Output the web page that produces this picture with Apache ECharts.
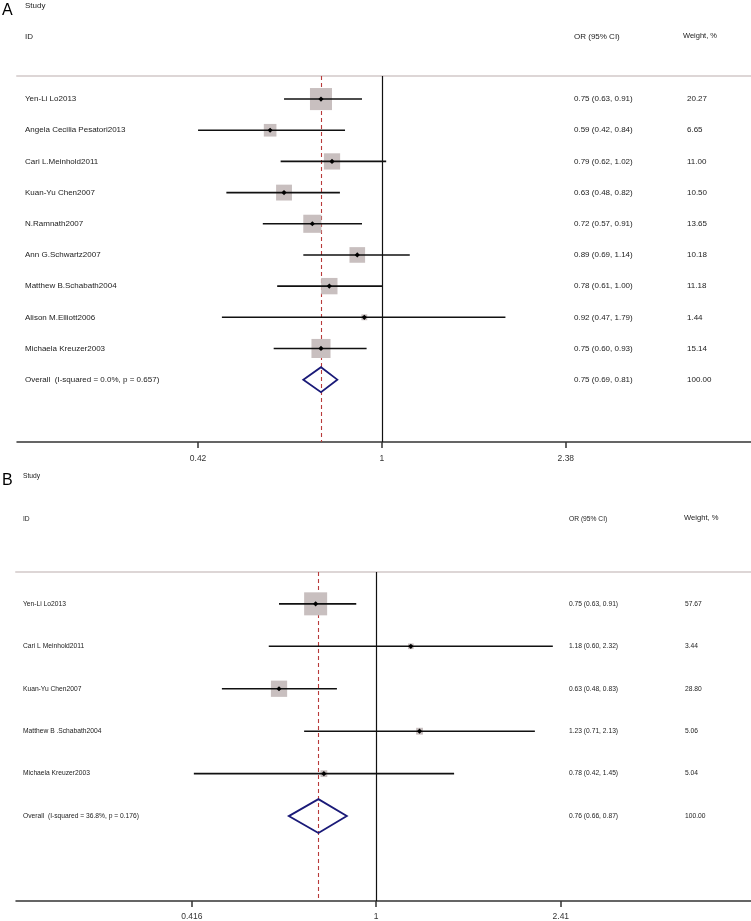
<!DOCTYPE html>
<html>
<head>
<meta charset="utf-8">
<script src="https://cdn.jsdelivr.net/npm/echarts@6/dist/echarts.min.js"></script>
<style>
  html, body { margin: 0; padding: 0; background: #fff; }
  #chart { width: 751px; height: 921px; }
</style>
</head>
<body>
<div id="chart"></div>
<script>
// Panel A
const studiesA = ['Yen-Li Lo2013', 'Angela Cecilia Pesatori2013', 'Cari L.Meinhold2011', 'Kuan-Yu Chen2007',
  'N.Ramnath2007', 'Ann G.Schwartz2007', 'Matthew B.Schabath2004', 'Alison M.Elliott2006', 'Michaela Kreuzer2003'];
const orA = [0.75, 0.59, 0.79, 0.63, 0.72, 0.89, 0.78, 0.92, 0.75];
const lowA = [0.63, 0.42, 0.62, 0.48, 0.57, 0.69, 0.61, 0.47, 0.60];
const highA = [0.91, 0.84, 1.02, 0.82, 0.91, 1.14, 1.00, 1.79, 0.93];
const weightA = [20.27, 6.65, 11.00, 10.50, 13.65, 10.18, 11.18, 1.44, 15.14];
const overallA = { label: 'Overall  (I-squared = 0.0%, p = 0.657)', or: 0.75, low: 0.69, high: 0.81, weight: 100.00 };
const ticksA = [0.42, 1, 2.38];

// Panel B
const studiesB = ['Yen-Li Lo2013', 'Cari L Meinhold2011', 'Kuan-Yu Chen2007', 'Matthew B .Schabath2004', 'Michaela Kreuzer2003'];
const orB = [0.75, 1.18, 0.63, 1.23, 0.78];
const lowB = [0.63, 0.60, 0.48, 0.71, 0.42];
const highB = [0.91, 2.32, 0.83, 2.13, 1.45];
const weightB = [57.67, 3.44, 28.80, 5.06, 5.04];
const overallB = { label: 'Overall  (I-squared = 36.8%, p = 0.176)', or: 0.76, low: 0.66, high: 0.87, weight: 100.00 };
const ticksB = [0.416, 1, 2.41];

const FONT = 'Liberation Sans, Arial, sans-serif';

function fmtCI(e, l, h) {
  return e.toFixed(2) + ' (' + l.toFixed(2) + ', ' + h.toFixed(2) + ')';
}

// builds grid, axes and series for one forest panel
function buildPanel(idx, p) {
  const n = p.studies.length;
  const grid = { left: p.left, right: 0, top: p.top, height: p.height };
  const xAxes = [
    {
      gridIndex: idx, type: 'log', logBase: Math.E, min: p.xmin, max: p.xmax,
      axisLine: { onZero: false, lineStyle: { color: '#333', width: 1.5 } },
      axisTick: { customValues: p.ticks, length: 6, lineStyle: { color: '#333', width: 1.5 } },
      axisLabel: {
        customValues: p.ticks, margin: p.labelMargin, color: '#333', fontSize: 8.5, fontFamily: FONT,
        formatter: v => String(+(+v).toFixed(3))
      },
      splitLine: { show: false }
    },
    {
      gridIndex: idx, type: 'value', position: 'top', min: 0, max: 1,
      axisLine: { onZero: false, lineStyle: { color: '#ddd6d6', width: 2 } },
      axisTick: { show: false }, axisLabel: { show: false }, splitLine: { show: false }
    }
  ];
  const yAxis = {
    gridIndex: idx, type: 'value', inverse: true, min: p.ymin, max: p.ymax, show: false
  };
  const xi = idx * 2, yi = idx;

  const rows = p.studies.map((s, i) => [p.or[i], i, p.low[i], p.high[i], p.weight[i]]);
  const studySeries = {
    type: 'custom', xAxisIndex: xi, yAxisIndex: yi, clip: false, z: 3,
    data: rows,
    encode: { x: [0, 2, 3], y: 1 },
    renderItem: (params, api) => {
      const y = api.value(1);
      const pe = api.coord([api.value(0), y]);
      const pl = api.coord([api.value(2), y]);
      const ph = api.coord([api.value(3), y]);
      const s = p.boxK * Math.sqrt(api.value(4));
      const d = 2.6;
      return {
        type: 'group',
        children: [
          { type: 'rect', shape: { x: pe[0] - s / 2, y: pe[1] - s / 2, width: s, height: s }, style: { fill: '#c8bfbf' } },
          { type: 'line', shape: { x1: pl[0], y1: pl[1], x2: ph[0], y2: ph[1] }, style: { stroke: '#111', lineWidth: 1.6 } },
          { type: 'polygon', shape: { points: [[pe[0] - d, pe[1]], [pe[0], pe[1] - d], [pe[0] + d, pe[1]], [pe[0], pe[1] + d]] }, style: { fill: '#000' } }
        ]
      };
    }
  };

  const ov = p.overall;
  const overallSeries = {
    type: 'custom', xAxisIndex: xi, yAxisIndex: yi, clip: false, z: 3,
    data: [[ov.or, n, ov.low, ov.high]],
    encode: { x: [0, 2, 3], y: 1 },
    renderItem: (params, api) => {
      const y = api.value(1);
      const top = api.coord([api.value(0), y - 0.4]);
      const bot = api.coord([api.value(0), y + 0.4]);
      const l = api.coord([api.value(2), y]);
      const h = api.coord([api.value(3), y]);
      return {
        type: 'polygon',
        shape: { points: [l, top, h, bot] },
        style: { fill: 'none', stroke: '#1a1a78', lineWidth: 1.8 }
      };
    },
    markLine: {
      silent: true, symbol: 'none', label: { show: false }, z: 1,
      data: [
        { xAxis: ov.or, lineStyle: { color: '#b83a3a', type: [4, 3], width: 1.1 } },
        { xAxis: 1, lineStyle: { color: '#111', type: 'solid', width: 1.2 } }
      ]
    }
  };

  const textRows = p.studies.map((s, i) => ({ label: s, ci: fmtCI(p.or[i], p.low[i], p.high[i]), w: p.weight[i].toFixed(2) }));
  textRows.push({ label: ov.label, ci: fmtCI(ov.or, ov.low, ov.high), w: ov.weight.toFixed(2) });
  const textSeries = {
    type: 'custom', xAxisIndex: xi, yAxisIndex: yi, clip: false, z: 4, silent: true,
    data: textRows.map((r, i) => [1, i]),
    encode: { x: 0, y: 1 },
    renderItem: (params, api) => {
      const r = textRows[params.dataIndex];
      const yy = api.coord([1, api.value(1)])[1];
      const st = { fill: '#222', fontSize: p.fontSize, fontFamily: FONT, verticalAlign: 'middle', align: 'left' };
      return {
        type: 'group',
        children: [
          { type: 'text', x: p.colLabel, y: yy, style: Object.assign({ text: r.label }, st) },
          { type: 'text', x: p.colCI, y: yy, style: Object.assign({ text: r.ci }, st) },
          { type: 'text', x: p.colW, y: yy, style: Object.assign({ text: r.w }, st) }
        ]
      };
    }
  };

  const hs = { fill: '#222', fontSize: p.fontSize, fontFamily: FONT, verticalAlign: 'middle' };
  const graphics = [
    { type: 'text', left: 2, top: p.letterY - 6, style: { text: p.letter, fill: '#000', fontSize: 16, fontFamily: FONT } },
    { type: 'text', x: p.colLabel, y: p.studyY, style: Object.assign({ text: 'Study' }, hs) },
    { type: 'text', x: p.colLabel, y: p.idY, style: Object.assign({ text: 'ID' }, hs) },
    { type: 'text', x: p.colCI, y: p.idY, style: Object.assign({ text: 'OR (95% CI)' }, hs) },
    { type: 'text', x: p.colWH, y: p.idY - 1, style: Object.assign({ text: 'Weight, %' }, hs, { fontSize: p.weightHeadSize }) }
  ];

  return { grid, xAxes, yAxis, series: [studySeries, overallSeries, textSeries], graphics };
}

const panelA = buildPanel(0, {
  studies: studiesA, or: orA, low: lowA, high: highA, weight: weightA, overall: overallA, ticks: ticksA,
  left: 17, top: 76, height: 366, xmin: 0.1788, xmax: 5.70, ymin: -0.74, ymax: 11,
  boxK: 4.9, fontSize: 8, weightHeadSize: 7.5, labelMargin: 12,
  colLabel: 25, colCI: 574, colW: 687, colWH: 683,
  letter: 'A', letterY: 9, studyY: 6, idY: 37
});
const panelB = buildPanel(1, {
  studies: studiesB, or: orB, low: lowB, high: highB, weight: weightB, overall: overallB, ticks: ticksB,
  left: 16, top: 572, height: 329, xmin: 0.1801, xmax: 5.96, ymin: -0.75, ymax: 7,
  boxK: 3.03, fontSize: 6.7, weightHeadSize: 7.6, labelMargin: 11,
  colLabel: 23, colCI: 569, colW: 685, colWH: 684,
  letter: 'B', letterY: 479, studyY: 476, idY: 519
});

const chart = echarts.init(document.getElementById('chart'), null, { renderer: 'canvas' });
chart.setOption({
  backgroundColor: '#fff',
  animation: false,
  grid: [panelA.grid, panelB.grid],
  xAxis: panelA.xAxes.concat(panelB.xAxes),
  yAxis: [panelA.yAxis, panelB.yAxis],
  series: panelA.series.concat(panelB.series),
  graphic: panelA.graphics.concat(panelB.graphics)
});
</script>
</body>
</html>
